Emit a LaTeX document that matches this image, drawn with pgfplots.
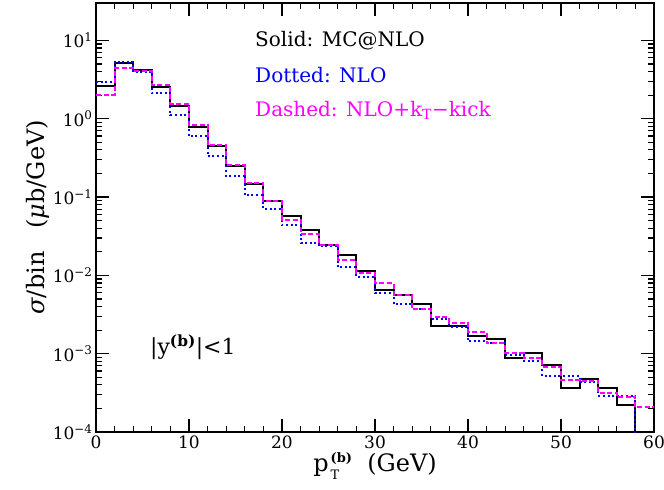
\documentclass[border=0pt]{standalone}
\usepackage{fontspec}
\setmainfont{DejaVu Serif}
\usepackage{pgfplots}
\pgfplotsset{compat=1.18}
\definecolor{pink}{RGB}{255,0,255}
\definecolor{nloblue}{RGB}{0,0,255}

% bins are 2 GeV wide; each row is the left edge of a bin and its value
\pgfplotstableread{
x      mcnlo     nlo       kick
0      2.64      2.94      2.02
2      5.19      5.25      4.43
4      4.14      3.94      4.10
6      2.56      2.12      2.69
8      1.44      1.10      1.55
10     0.78      0.594     0.83
12     0.443     0.333     0.46
14     0.251     0.185     0.254
16     0.148     0.105     0.150
18     0.088     0.070     0.088
20     0.0565    0.0438    0.0513
22     0.0374    0.0260    0.0336
24     0.0242    0.0240    0.0247
26     0.0180    0.0126    0.0157
28     0.0112    0.0094    0.0106
30     0.00655   0.0060    0.00796
32     0.00558   0.00429   0.00558
34     0.00429   0.00375   0.0037
36     0.00228   0.00279   0.0029
38     0.00228   0.00222   0.00248
40     0.00169   0.00144   0.00187
42     0.00156   0.00136   0.00136
44     0.000885  0.00095   0.00102
46     0.00102   0.00081   0.00087
48     0.000713  0.00052   0.00068
50     0.00037   0.00052   0.000468
52     0.000482  0.00043   0.00045
54     0.00037   0.00029   0.000319
56     0.00022   0.00029   0.000281
58     1e-6      1e-6      0.000206
60     1e-6      1e-6      0.000206
}\spectrum

\begin{document}
\begin{tikzpicture}
\begin{axis}[
  name=ax,
  scale only axis,
  width=558pt, height=429pt,
  xmin=0, xmax=60,
  ymode=log, ymin=1e-4, ymax=30,
  xtick={0,10,...,60},
  minor x tick num=4,
  tick align=inside,
  major tick length=13pt,
  minor tick length=6pt,
  every tick/.style={black, line width=1.2pt},
  axis line style={line width=1.8pt},
  tick label style={font=\fontsize{17}{19}\selectfont},
  /pgf/number format/assume math mode=true,
  yticklabel={10\textsuperscript{\pgfmathparse{int(round(\tick/ln(10)))}\ifnum\pgfmathresult<0 −\number\numexpr-\pgfmathresult\relax\else\pgfmathresult\fi}},
  label style={font=\fontsize{24}{28}\selectfont},
  xlabel={p\hspace{2pt}\raisebox{-8pt}{\fontsize{13}{16.5}\selectfont\begin{tabular}[b]{@{}l@{}}\textbf{(b)}\\T\end{tabular}}\ \ (GeV)},
  ylabel={\textit{σ}/bin\ \ \ (\textit{μ}b/GeV)},
  ylabel style={yshift=-4pt},
  xlabel style={yshift=4pt},
]
\addplot[const plot, black, line width=2pt] table[x=x, y=mcnlo] {\spectrum};
\addplot[const plot, nloblue, line width=2pt, dash pattern=on 2pt off 2.6pt] table[x=x, y=nlo] {\spectrum};
\addplot[const plot, pink, line width=2pt, dash pattern=on 5pt off 2.5pt] table[x=x, y=kick] {\spectrum};

\node[anchor=west, inner sep=0pt, font=\fontsize{20}{24}\selectfont] at (axis cs:17.1,10) {Solid: MC@NLO};
\node[anchor=west, inner sep=0pt, font=\fontsize{20}{24}\selectfont, text=nloblue] at (axis cs:17.1,3.57) {Dotted: NLO};
\node[anchor=west, inner sep=0pt, font=\fontsize{20}{24}\selectfont, text=pink] at (axis cs:17.1,1.28) {Dashed: NLO+k\textsubscript{T}−kick};
\node[anchor=west, inner sep=0pt, font=\fontsize{22}{26}\selectfont] at (axis cs:5.8,1.2e-3) {|y\textsuperscript{\textbf{(b)}}|<1};
\end{axis}
\pgfresetboundingbox
\path[use as bounding box] ([xshift=-96pt,yshift=-57pt]ax.south west) rectangle ([xshift=10pt,yshift=3pt]ax.north east);
\end{tikzpicture}
\end{document}
